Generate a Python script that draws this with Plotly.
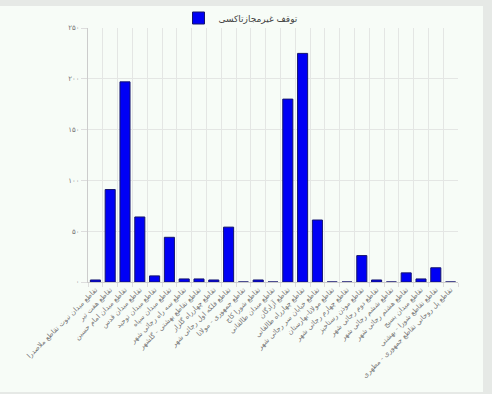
import plotly.graph_objects as go

categories = [
    "تقاطع میدان نبوت تقاطع ملاصدرا",
    "تقاطع هفت تیر",
    "تقاطع میدان امام حسین",
    "تقاطع میدان قدس",
    "تقاطع میدان توحید",
    "تقاطع میدان سپاه",
    "تقاطع سه راه رجائی شهر",
    "تقاطع تقاطع بهشتی - گلشهر",
    "تقاطع چهارراه گلزار",
    "تقاطع فلکه اول رجائی شهر",
    "تقاطع جمهوری - مولانا",
    "تقاطع شورا کاج",
    "تقاطع میدان طالقانی",
    "تقاطع آزادگان",
    "تقاطع چهارراه طالقانی",
    "تقاطع خیابان سر رجائی شهر",
    "تقاطع مولانا-بهارستان",
    "تقاطع چهارم رجائی شهر",
    "تقاطع موذن رستاخیز",
    "تقاطع دوم رجائی شهر",
    "تقاطع ششم رجائی شهر",
    "تقاطع هشتم رجائی شهر",
    "تقاطع میدان بسیج",
    "تقاطع تقاطع شورا - بهشتی",
    "تقاطع پل روحانی تقاطع جمهوری - مطهری",
]
values = [2, 91, 197, 64, 6, 44, 3, 3, 2, 54, 0, 2, 0, 180, 225, 61, 0, 0, 26, 2, 0, 9, 3, 14, 0]
series_name = "توقف غیرمجازتاکسی"
y_tick_vals = [0, 50, 100, 150, 200, 250]
y_tick_text = ["۰", "۵۰", "۱۰۰", "۱۵۰", "۲۰۰", "۲۵۰"]

W, H = 492, 394
L, R, T, B = 88, 34, 28, 112

fig = go.Figure()
fig.add_trace(go.Bar(
    x=categories, y=values, name=series_name,
    marker=dict(color="#0000f5", line=dict(color="#14146e", width=1)),
    width=0.68,
))

pw = W - L - R
ph = H - T - B
def px_x(p):
    return (p - L) / pw
def px_y(p):
    return (H - B - p) / ph

fig.update_layout(
    width=W, height=H,
    margin=dict(l=L, r=R, t=T, b=B, autoexpand=False),
    paper_bgcolor="#e6e9e6",
    plot_bgcolor="rgba(0,0,0,0)",
    font=dict(family="DejaVu Sans", size=8, color="#666666"),
    showlegend=True,
    legend=dict(orientation="h", x=px_x(241), y=px_y(18), xanchor="center", yanchor="middle",
                font=dict(size=9, color="#444444"), bgcolor="rgba(0,0,0,0)"),
    bargap=0.3,
    shapes=[dict(type="rect", xref="paper", yref="paper", layer="below",
                 x0=px_x(0), x1=px_x(483), y0=px_y(392), y1=px_y(6),
                 fillcolor="#f7fcf7", line=dict(width=0))],
    xaxis=dict(
        tickangle=-45, tickfont=dict(size=7, color="#777777"),
        showgrid=True, gridcolor="#e4e6e4", gridwidth=1,
        tickson="boundaries", ticks="outside", ticklen=4, tickcolor="#dddddd",
        showline=True, linecolor="#cccccc", linewidth=1,
        fixedrange=True,
    ),
    yaxis=dict(
        range=[0, 250], tickvals=y_tick_vals, ticktext=y_tick_text,
        tickfont=dict(size=7, color="#777777"),
        showgrid=True, gridcolor="#e4e6e4", gridwidth=1,
        ticks="outside", ticklen=6, tickcolor="#dddddd",
        showline=True, linecolor="#cccccc", linewidth=1,
        zeroline=False,
    ),
)

fig.write_html("out.html", config={"displayModeBar": False},
               post_script="document.body.style.margin='0';document.body.style.overflow='hidden';")
